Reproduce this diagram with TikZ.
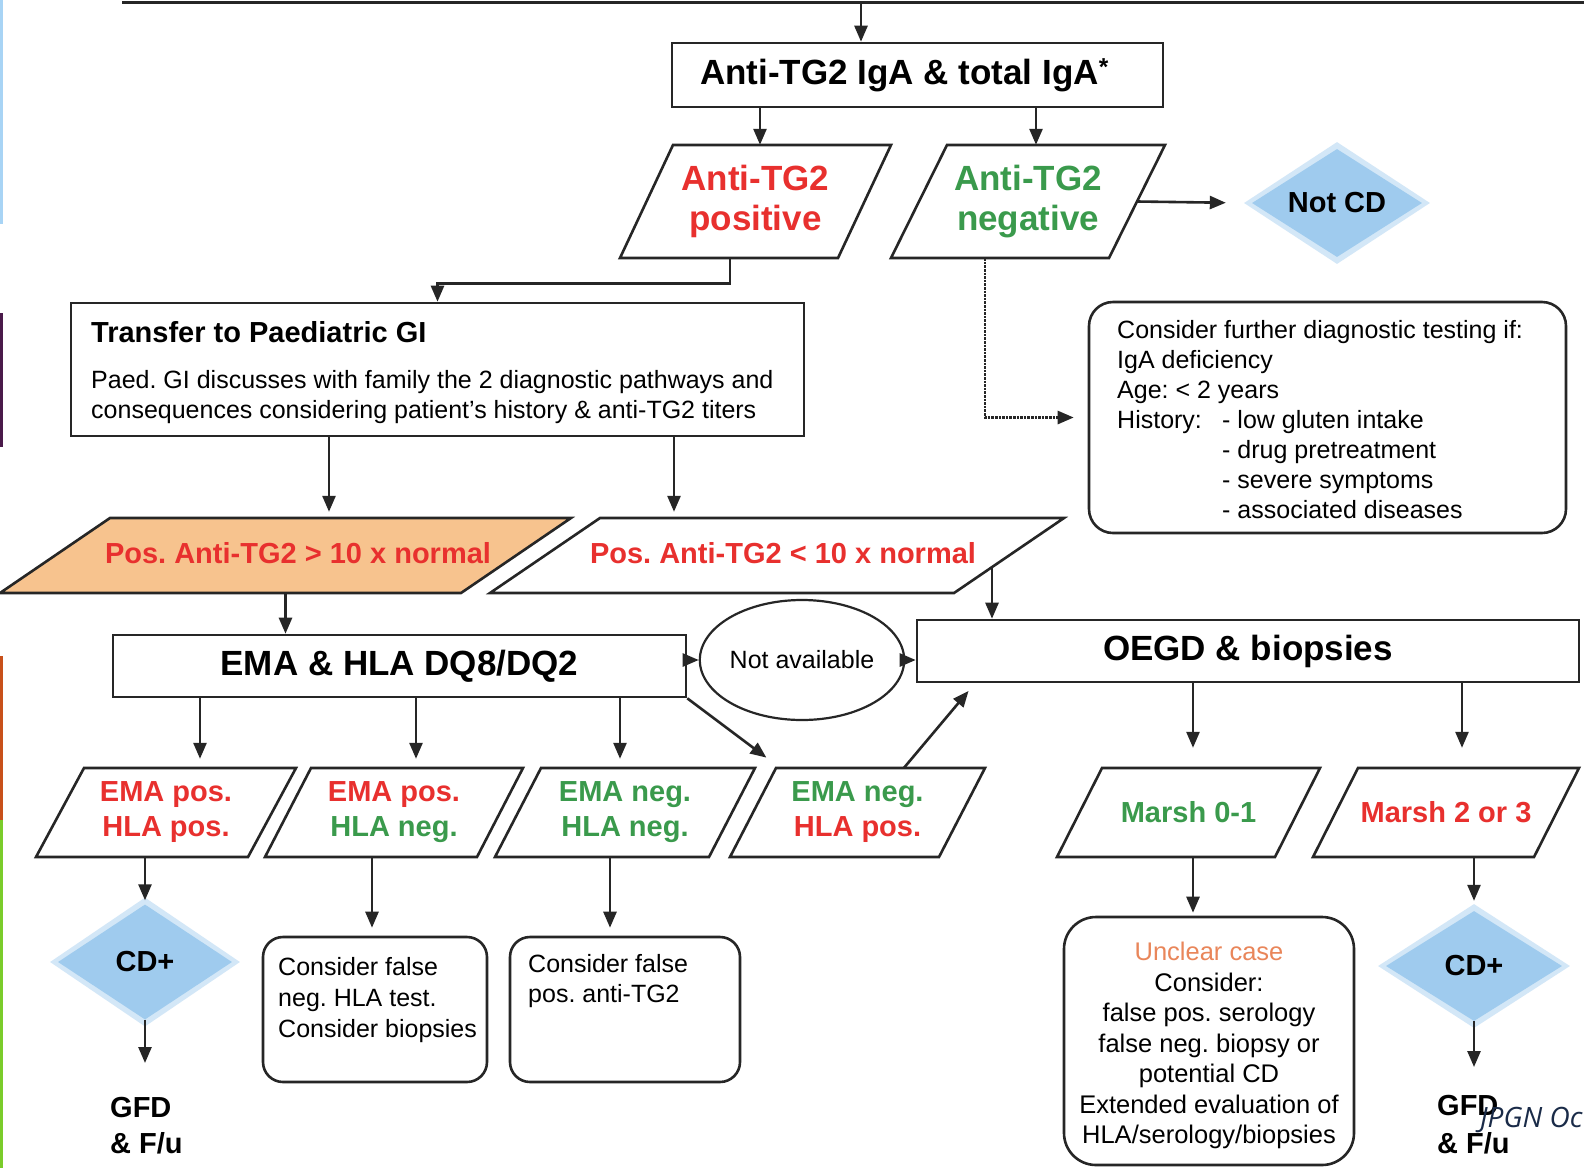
\documentclass[tikz,border=0pt]{standalone}
\usepackage{fontspec}
\setmainfont{Liberation Sans}
\newfontfamily\jpgnfont{Open Sans}
\usetikzlibrary{arrows.meta,shapes.geometric,calc}
\frenchspacing

\definecolor{ink}{HTML}{262626}
\definecolor{tred}{HTML}{E8302E}
\definecolor{tgreen}{HTML}{3A9A4C}
\definecolor{peach}{HTML}{F7C38E}
\definecolor{dblue}{HTML}{9FCBEE}
\definecolor{unclear}{HTML}{E9865A}
\definecolor{navy}{HTML}{1A2B48}
\definecolor{stripeblue}{HTML}{A8D4F5}
\definecolor{stripepurple}{HTML}{4A1A4A}
\definecolor{stripeorange}{HTML}{C8501A}
\definecolor{stripegreen}{HTML}{7ACC2A}

% parallelogram: name, top-left x, top y, bottom-left x, bottom y, edge length, fill, text style, text
\newcommand\pgram[9]{%
  \draw[edge, fill=#7] (#2,#3) -- ++(#6,0) -- ({#4+#6},#5) -- (#4,#5) -- cycle;
  \node[inner sep=0pt, minimum width=#6pt, minimum height={(#5-#3)*1pt}, align=center, #8]
    (#1) at ({(#2+#4+#6)/2},{(#3+#5)/2}) {#9};
}

\begin{document}
\begin{tikzpicture}[x=1pt,y=-1pt,
  edge/.style={draw=ink, line width=2.6pt, line join=miter},
  arr/.style={draw=ink, line width=2.6pt, -{Triangle[length=16pt,width=13pt]}},
  dotarr/.style={draw=ink, line width=2.6pt, densely dotted, -{Triangle[length=16pt,width=13pt]}},
  box/.style={edge, fill=white, inner sep=0pt},
  rbox/.style={box, rounded corners=24pt},
  bigb/.style={font=\fontsize{35}{40}\selectfont\bfseries},
  midb/.style={font=\fontsize{29}{35}\selectfont\bfseries},
  txt/.style={inner sep=0pt, anchor=base west, font=\fontsize{25}{30}\selectfont},
  ctxt/.style={inner sep=0pt, anchor=base, font=\fontsize{25.5}{30}\selectfont},
  halo/.style={diamond, inner sep=0pt, fill=dblue, opacity=0.45},
  dia/.style={diamond, inner sep=0pt, fill=dblue},
]
\useasboundingbox (0,0) rectangle (1596,1168);
\clip (0,0) rectangle (1596,1168);
\fill[white] (0,0) rectangle (1596,1168);

% thin coloured strip along the left margin
\fill[stripeblue] (0,0) rectangle (3,224);
\fill[stripepurple] (0,313) rectangle (3,447);
\fill[stripeorange] (0,656) rectangle (3,820);
\fill[stripegreen] (0,820) rectangle (3,1168);

% column positions of the vertical connectors
\coordinate (k861) at (861,0);
\coordinate (k760) at (760,0);
\coordinate (k1036) at (1036,0);
\coordinate (k730) at (730,0);
\coordinate (k985) at (985,0);
\coordinate (k329) at (329,0);
\coordinate (k674) at (674,0);
\coordinate (k200) at (200,0);
\coordinate (k416) at (416,0);
\coordinate (k620) at (620,0);
\coordinate (k780) at (780,0);
\coordinate (k904) at (904,0);
\coordinate (k975) at (975,0);
\coordinate (k1193) at (1193,0);
\coordinate (k1462) at (1462,0);
\coordinate (k372) at (372,0);
\coordinate (k610) at (610,0);

% bottom edge of the box above
\coordinate (tl) at (122,2);
\coordinate (tr) at (1584,2);
\draw[edge, line width=3pt] (tl) -- (tr);

% serology
\node[box, minimum width=491pt, minimum height=64pt, bigb] (tg) at (917.5,75)
  {Anti-TG2 IgA \& total IgA\textsuperscript{*}\hspace*{26pt}};

\pgram{pos}{673}{145}{620}{258}{218}{white}{bigb}{\textcolor{tred}{Anti-TG2}\\\textcolor{tred}{positive}}
\pgram{neg}{947}{145}{891}{258}{218}{white}{bigb}{\textcolor{tgreen}{Anti-TG2}\\\textcolor{tgreen}{negative}}
\node[halo, minimum width=186pt, minimum height=122pt] (notcdh) at (1337,203) {};
\node[dia, minimum width=170pt, minimum height=108pt] (notcd) at (1337,203) {};
\node[midb, inner sep=0pt] (notcdt) at (notcd) {Not CD};

% further testing
\node[rbox, minimum width=477pt, minimum height=231pt] (further) at (1327.5,417.5) {};
\node[txt] (f1) at (1117,338) {Consider further diagnostic testing if:};
\node[txt] (f2) at (1117,368) {IgA deficiency};
\node[txt] (f3) at (1117,398) {Age: < 2 years};
\node[txt] (f4) at (1117,428) {History:};
\node[txt] (f5) at (1222,428) {- low gluten intake};
\node[txt] (f6) at (1222,458) {- drug pretreatment};
\node[txt] (f7) at (1222,488) {- severe symptoms};
\node[txt] (f8) at (1222,518) {- associated diseases};

% transfer
\node[box, minimum width=733pt, minimum height=133pt] (transfer) at (437.5,369.5) {};
\node[txt, font=\fontsize{29}{35}\selectfont\bfseries] (t1) at (91,342) {Transfer to Paediatric GI};
\node[txt] (t2) at (91,388) {Paed. GI discusses with family the 2 diagnostic pathways and};
\node[txt] (t3) at (91,418) {consequences considering patient's history \& anti-TG2 titers};

% titre split
\pgram{orange}{110}{518}{0}{593}{461}{peach}{midb}{}
\pgram{white}{600}{518}{490}{593}{464}{white}{midb}{}
\node[midb, text=tred, inner sep=0pt] (orangeT) at (298,553) {Pos. Anti-TG2 > 10 x normal};
\node[midb, text=tred, inner sep=0pt] (whiteT) at (783,553) {Pos. Anti-TG2 < 10 x normal};

% EMA / HLA
\node[box, minimum width=573pt, minimum height=62pt, bigb] (ema) at (399.5,666) {EMA \& HLA DQ8/DQ2};
\node[ellipse, draw=ink, line width=2.2pt, minimum width=160pt, minimum height=120pt, inner sep=0pt,
      font=\fontsize{25}{30}\selectfont] (na) at (802,660) {Not available};
\node[box, minimum width=662pt, minimum height=62pt, bigb] (oegd) at (1248,651) {OEGD \& biopsies};

\pgram{p1}{84}{768}{36}{857}{212}{white}{midb}{\textcolor{tred}{EMA pos.}\\\textcolor{tred}{HLA pos.}}
\pgram{p2}{311}{768}{265}{857}{212}{white}{midb}{\textcolor{tred}{EMA pos.}\\\textcolor{tgreen}{HLA neg.}}
\pgram{p3}{541}{768}{495}{857}{214}{white}{midb}{\textcolor{tgreen}{EMA neg.}\\\textcolor{tgreen}{HLA neg.}}
\pgram{p4}{776}{768}{730}{857}{209}{white}{midb}{\textcolor{tgreen}{EMA neg.}\\\textcolor{tred}{HLA pos.}}
\pgram{m1}{1102}{768}{1057}{857}{218}{white}{midb}{\textcolor{tgreen}{Marsh 0-1}}
\pgram{m2}{1358}{768}{1313}{857}{221}{white}{midb}{\textcolor{tred}{Marsh 2 or 3}}

% outcomes
\node[halo, minimum width=190pt, minimum height=129pt] (cd1h) at (145,962) {};
\node[dia, minimum width=174pt, minimum height=115pt] (cd1) at (145,962) {};
\node[midb, inner sep=0pt] (cd1t) at (cd1) {CD+};
\node[halo, minimum width=192pt, minimum height=124pt] (cd2h) at (1474,966) {};
\node[dia, minimum width=176pt, minimum height=110pt] (cd2) at (1474,966) {};
\node[midb, inner sep=0pt] (cd2t) at (cd2) {CD+};

% the base anchor of these two-line nodes sits on the second line
\node[inner sep=0pt, anchor=base west, align=left, font=\fontsize{29}{36}\selectfont\bfseries]
  (gfd1) at (110,1153) {GFD\\\& F/u};
\node[inner sep=0pt, anchor=base west, align=left, font=\fontsize{29}{38}\selectfont\bfseries]
  (gfd2) at (1437,1153) {GFD\\\& F/u};
\coordinate (g1) at (145,1063);
\coordinate (g2) at (1474,1067);

\node[rbox, rounded corners=20pt, minimum width=224pt, minimum height=145pt] (box2) at (375,1009.5) {};
\node[txt] (b21) at (278,975) {Consider false};
\node[txt] (b22) at (278,1006) {neg. HLA test.};
\node[txt] (b23) at (278,1037) {Consider biopsies};
\node[rbox, rounded corners=20pt, minimum width=230pt, minimum height=145pt] (box3) at (625,1009.5) {};
\node[txt] (b31) at (528,972) {Consider false};
\node[txt] (b32) at (528,1002) {pos. anti-TG2};

\node[rbox, rounded corners=32pt, minimum width=290pt, minimum height=248pt] (unc) at (1209,1041) {};
\node[ctxt, text=unclear] (u1) at (1209,960) {Unclear case};
\node[ctxt] (u2) at (1209,991) {Consider:};
\node[ctxt] (u3) at (1209,1021) {false pos. serology};
\node[ctxt] (u4) at (1209,1052) {false neg. biopsy or};
\node[ctxt] (u5) at (1209,1082) {potential CD};
\node[ctxt] (u6) at (1209,1113) {Extended evaluation of};
\node[ctxt] (u7) at (1209,1143) {HLA/serology/biopsies};

\node[inner sep=0pt, anchor=base west, font=\jpgnfont\itshape\fontsize{28}{34}\selectfont, text=navy]
  (jpgn) at (1480,1127) {JPGN Oc};

% connectors
\draw[arr] (tl -| k861) -- (tg.north -| k861);
\draw[arr] (tg.south -| k760) -- (pos.north -| k760);
\draw[arr] (tg.south -| k1036) -- (neg.north -| k1036);
\draw[arr, shorten >=18pt] (neg.east) -- (notcdh.west);
\draw[dotarr, shorten >=14pt] (neg.south -| k985) |- (further.west);
\draw[arr] (pos.south -| k730) -- ++(0,25) -| (transfer.north);
\draw[arr, shorten >=6pt] (transfer.south -| k329) -- (orange.north -| k329);
\draw[arr, shorten >=6pt] (transfer.south -| k674) -- (white.north -| k674);
\draw[arr] (orange.south) -- (orange.south |- ema.north);
\coordinate (wR) at (992,566);
\draw[arr] (wR) -- (wR |- oegd.north);
\draw[arr] (ema.east |- na.west) -- (na.west);
\draw[arr] (na.east) -- (na.east -| oegd.west);
\draw[arr, shorten >=9pt] (ema.south -| k200) -- (p1.north -| k200);
\draw[arr, shorten >=9pt] (ema.south -| k416) -- (p2.north -| k416);
\draw[arr, shorten >=9pt] (ema.south -| k620) -- (p3.north -| k620);
\draw[arr, shorten >=17pt] (ema.south east) -- (p4.north -| k780);
\draw[arr, shorten >=10pt] (p4.north -| k904) -- (oegd.south -| k975);
\draw[arr, shorten >=20pt] (oegd.south -| k1193) -- (m1.north -| k1193);
\draw[arr, shorten >=20pt] (oegd.south -| k1462) -- (m2.north -| k1462);
\draw[arr, shorten >=4pt] (p1.south -| cd1.north) -- (cd1.north);
\draw[arr] (cd1.south) -- (g1);
\draw[arr, shorten >=8pt] (p2.south -| k372) -- (box2.north -| k372);
\draw[arr, shorten >=8pt] (p3.south -| k610) -- (box3.north -| k610);
\draw[arr, shorten >=3pt] (m1.south -| k1193) -- (unc.north -| k1193);
\draw[arr, shorten >=10pt] (m2.south -| cd2.north) -- (cd2.north);
\draw[arr] (cd2.south) -- (g2);
\end{tikzpicture}
\end{document}
